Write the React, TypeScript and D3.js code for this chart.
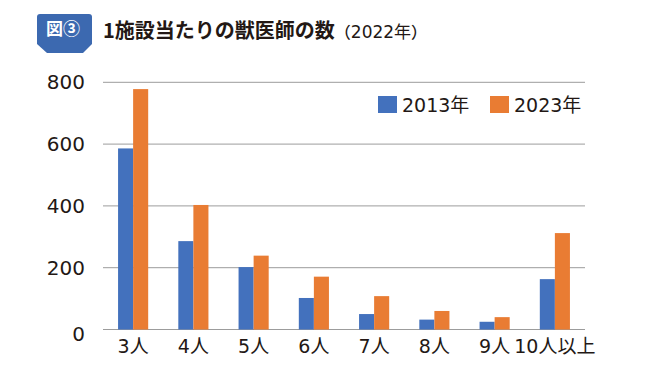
import { useEffect, useRef } from "react";
import * as d3 from "d3";

const categories = ["3人", "4人", "5人", "6人", "7人", "8人", "9人", "10人以上"];
const series2013 = [586, 286, 202, 102, 50, 32, 25, 163];
const series2023 = [778, 403, 239, 171, 108, 60, 40, 312];
const seriesNames = ["2013年", "2023年"];
const colors = ["#4371bd", "#e97c33"];
const yTicks = [0, 200, 400, 600, 800];

const FONT = "'DejaVu Sans', 'Noto Sans CJK JP', sans-serif";
const TITLE_FONT = "'Noto Sans CJK JP', sans-serif";

const App = () => {
  const svgRef = useRef<SVGSVGElement>(null);

  useEffect(() => {
    const width = 652;
    const height = 369;
    const svg = d3.select(svgRef.current).attr("width", width).attr("height", height);
    svg.selectAll("*").remove();

    svg.append("rect").attr("width", width).attr("height", height).attr("fill", "#fff");

    // badge
    svg
      .append("path")
      .attr("d", "M37,17 Q37,14 40,14 H89 Q92,14 92,17 V44 L83,53 H47 L37,44 Z")
      .attr("fill", "#3c69b0");
    svg
      .append("text")
      .attr("x", 63)
      .attr("y", 29)
      .attr("dy", "0.35em")
      .attr("text-anchor", "middle")
      .attr("fill", "#fff")
      .style("font-family", TITLE_FONT)
      .style("font-weight", "700")
      .style("font-size", "17px")
      .text("図③");

    // title
    const title = svg
      .append("text")
      .attr("x", 103)
      .attr("y", 32)
      .attr("dy", "0.35em")
      .attr("fill", "#231815")
      .style("font-family", TITLE_FONT)
      .style("font-weight", "700");
    title.append("tspan").style("font-size", "20px").text("1施設当たりの獣医師の数");
    title.append("tspan").style("font-size", "16px").style("font-weight", "500").text("（");
    title
      .append("tspan")
      .style("font-size", "17px")
      .style("font-family", FONT)
      .style("font-weight", "400")
      .text("2022年");
    title.append("tspan").style("font-size", "16px").style("font-weight", "500").text("）");

    const x0 = d3.scaleBand().domain(categories).range([103, 585]).paddingInner(0.5).paddingOuter(0.25);
    const x1 = d3.scaleBand().domain(seriesNames).range([0, x0.bandwidth()]);
    const y = d3.scaleLinear().domain([0, 800]).range([329.5, 82.3]);

    // grid
    svg
      .append("g")
      .selectAll("line")
      .data(yTicks)
      .join("line")
      .attr("x1", 103)
      .attr("x2", 585)
      .attr("y1", (d) => y(d))
      .attr("y2", (d) => y(d))
      .attr("stroke", "#9c9c9c")
      .attr("stroke-width", 1);

    svg
      .append("g")
      .selectAll("text")
      .data(yTicks)
      .join("text")
      .attr("x", 85)
      .attr("y", (d) => y(d) + (d === 0 ? 4 : 0))
      .attr("dy", "0.35em")
      .attr("text-anchor", "end")
      .attr("fill", "#231815")
      .style("font-family", FONT)
      .style("font-size", "20px")
      .text((d) => d);

    const data = [series2013, series2023];
    const groups = svg
      .append("g")
      .selectAll("g")
      .data(categories)
      .join("g")
      .attr("transform", (d) => `translate(${x0(d)},0)`);

    groups
      .selectAll("rect")
      .data((_, i) => seriesNames.map((s, k) => ({ s, v: data[k][i], k })))
      .join("rect")
      .attr("x", (d) => x1(d.s)!)
      .attr("width", x1.bandwidth())
      .attr("y", (d) => y(d.v))
      .attr("height", (d) => y(0) - y(d.v))
      .attr("fill", (d) => colors[d.k]);

    svg
      .append("g")
      .selectAll("text")
      .data(categories)
      .join("text")
      .attr("x", (d) => x0(d)! + x0.bandwidth() / 2)
      .attr("y", 346)
      .attr("dy", "0.35em")
      .attr("text-anchor", "middle")
      .attr("fill", "#231815")
      .style("font-family", FONT)
      .style("font-size", "19px")
      .text((d) => d);

    // legend
    const legendX = [378, 490];
    const legend = svg
      .append("g")
      .selectAll("g")
      .data(seriesNames)
      .join("g")
      .attr("transform", (_, i) => `translate(${legendX[i]},96)`);
    legend.append("rect").attr("width", 19).attr("height", 17).attr("fill", (_, i) => colors[i]);
    legend
      .append("text")
      .attr("x", 24)
      .attr("y", 9)
      .attr("dy", "0.35em")
      .attr("fill", "#231815")
      .style("font-family", FONT)
      .style("font-size", "19px")
      .text((d) => d);
  }, []);

  return (
    <div style={{ margin: "-8px" }}>
      <svg ref={svgRef}></svg>
    </div>
  );
};

export default App;
